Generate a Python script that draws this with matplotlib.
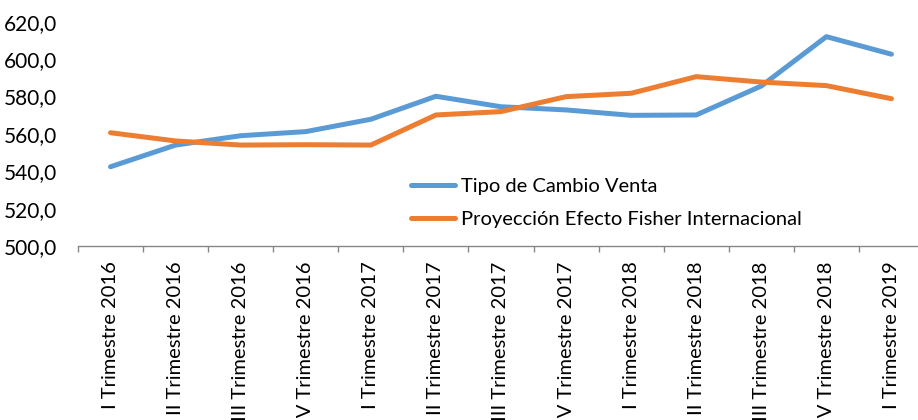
import matplotlib
matplotlib.use("Agg")
import matplotlib.pyplot as plt
from matplotlib.ticker import FuncFormatter, FixedLocator

categories = [
    "I Trimestre 2016", "II Trimestre 2016", "III Trimestre 2016", "IV Trimestre 2016",
    "I Trimestre 2017", "II Trimestre 2017", "III Trimestre 2017", "IV Trimestre 2017",
    "I Trimestre 2018", "II Trimestre 2018", "III Trimestre 2018", "IV Trimestre 2018",
    "I Trimestre 2019",
]
tipo_cambio = [542.4, 554.0, 559.0, 561.2, 567.8, 580.1, 574.5, 572.8, 569.9, 570.1, 585.6, 612.0, 602.6]
fisher = [560.6, 556.2, 554.0, 554.2, 554.0, 570.1, 571.9, 579.9, 581.7, 590.6, 587.7, 585.8, 578.8]
series_names = ["Tipo de Cambio Venta", "Proyección Efecto Fisher Internacional"]
y_ticks = [500, 520, 540, 560, 580, 600, 620]

plt.rcParams['font.family'] = ['Lato', 'DejaVu Sans']

W, H = 918, 420
fig = plt.figure(figsize=(W / 100, H / 100), dpi=100)
left = 78 / W
right = 924 / W
bottom = (H - 246) / H
top = (H - 21.7) / H
ax = fig.add_axes([left, bottom, right - left, top - bottom])

x = list(range(len(categories)))
ax.plot(x, tipo_cambio, color="#5B9BD5", lw=3.6, solid_capstyle="round", solid_joinstyle="round",
        label=series_names[0])
ax.plot(x, fisher, color="#ED7D31", lw=3.6, solid_capstyle="round", solid_joinstyle="round",
        label=series_names[1])

ax.set_xlim(-0.5, len(categories) - 0.5)
ax.set_ylim(y_ticks[0], y_ticks[-1])
ax.set_yticks(y_ticks)
ax.yaxis.set_major_formatter(FuncFormatter(lambda v, p: f"{v:.1f}".replace(".", ",")))
ax.tick_params(axis="y", length=0, pad=15, labelsize=15, labelcolor="#000000")

ax.set_xticks(x)
ax.set_xticklabels(categories, rotation=90, va="top", ha="center")
ax.tick_params(axis="x", which="major", length=0, pad=11, labelsize=14.5)
ax.xaxis.set_minor_locator(FixedLocator([i - 0.5 for i in range(len(categories) + 1)]))
ax.tick_params(axis="x", which="minor", length=4.3, width=1, color="#868686", direction="out")

for s in ["top", "right", "left"]:
    ax.spines[s].set_visible(False)
ax.spines["bottom"].set_color("#868686")
ax.spines["bottom"].set_linewidth(1)

leg = ax.legend(loc="center left", bbox_to_anchor=(403 / W, (H - 203) / H),
                bbox_transform=fig.transFigure, frameon=False, fontsize=14.5,
                handlelength=2.2, handletextpad=0.3, labelspacing=0.75, borderaxespad=0)

fig.savefig("out.png", dpi=100)
